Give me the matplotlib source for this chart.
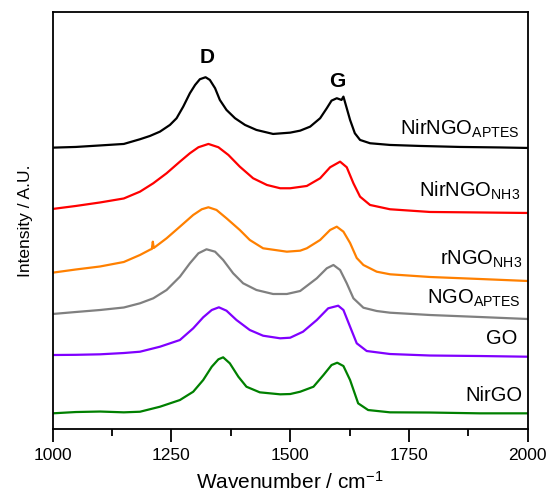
import numpy as np
import matplotlib
matplotlib.use("Agg")
import matplotlib.pyplot as plt

plt.rcParams["font.family"] = ["Liberation Sans", "DejaVu Sans"]
plt.rcParams["mathtext.default"] = "regular"

# Raman spectra (wavenumber in cm-1, stacked intensity in a.u.)
wn_nirngo_aptes = [1000, 1049, 1100, 1150, 1184, 1205, 1226, 1247, 1261, 1275, 1289, 1300,
                   1310, 1322, 1331, 1342, 1352, 1366, 1384, 1405, 1429, 1464, 1500, 1521,
                   1542, 1563, 1577, 1587, 1598, 1608, 1612, 1614, 1619, 1626, 1636, 1647,
                   1668, 1710, 1773, 1857, 1941, 2000]
i_nirngo_aptes = [281.3, 282, 283.5, 285, 289.7, 293, 297.3, 304, 310.7, 322.3, 335.7, 344,
                  349.7, 351.7, 349, 340.7, 329, 319, 310.7, 304, 299, 295, 296.3, 298.3,
                  302.3, 310.7, 320.7, 328.3, 330.7, 329, 332.3, 329, 320.7, 309, 295.7, 289,
                  285.7, 284, 283, 282, 281.5, 281]

wn_nirngo_nh3 = [1000, 1049, 1100, 1150, 1184, 1212, 1240, 1268, 1289, 1307, 1328, 1349,
                 1370, 1394, 1422, 1451, 1479, 1500, 1535, 1563, 1584, 1605, 1619, 1633,
                 1647, 1668, 1710, 1794, 1899, 2000]
i_nirngo_nh3 = [220, 223, 226.5, 230.5, 237.3, 245.7, 255.7, 267.3, 275.7, 281.7, 285, 281.7,
                274, 262.3, 250.7, 244, 240.7, 240.7, 243, 250.7, 261.7, 267.3, 261.7, 245.7,
                232.3, 224, 219.7, 217, 216.5, 216]

wn_rngo_nh3 = [1000, 1049, 1100, 1150, 1184, 1206, 1209, 1211, 1213, 1240, 1268, 1296,
               1314, 1328, 1345, 1366, 1394, 1415, 1443, 1493, 1521, 1535, 1563, 1584,
               1598, 1612, 1626, 1640, 1654, 1682, 1710, 1794, 1899, 2000]
i_rngo_nh3 = [156.3, 159.5, 162.5, 167, 174, 179.5, 180, 187.3, 181, 190.7, 202.3, 214,
              219.7, 221.7, 219, 210.7, 199, 189, 180.7, 177.3, 178.3, 180.7, 189, 199,
              202.3, 197.3, 186, 171, 164, 157.3, 154.7, 152, 150, 148]

wn_ngo_aptes = [1000, 1049, 1100, 1150, 1184, 1212, 1240, 1268, 1289, 1307, 1324, 1342,
                1359, 1380, 1401, 1429, 1464, 1493, 1521, 1556, 1577, 1591, 1605, 1619,
                1633, 1654, 1682, 1710, 1794, 1899, 2000]
i_ngo_aptes = [115, 117, 119, 121.5, 125.7, 130.7, 139, 152.3, 165.7, 175.7, 179.7, 177.3,
               169, 155.7, 145.7, 139, 135, 135, 138, 150.7, 160.7, 164, 159, 145.7,
               130.7, 121.3, 118, 116.3, 114, 112, 110]

wn_go = [1000, 1049, 1100, 1150, 1184, 1226, 1268, 1296, 1317, 1335, 1350, 1366,
         1387, 1415, 1443, 1479, 1500, 1527, 1556, 1580, 1601, 1612, 1626, 1640,
         1661, 1710, 1794, 1899, 2000]
i_go = [74, 74.2, 74.7, 76, 77.3, 82.3, 89, 100.7, 111.7, 119, 121.7, 118.3,
        109, 99, 93.3, 90.7, 91.3, 97.3, 109, 120.7, 123.3, 119, 102.3, 85.7,
        78, 75, 73.5, 73, 72.3]

wn_nirgo = [1000, 1049, 1100, 1150, 1184, 1226, 1268, 1296, 1317, 1335, 1349, 1359,
            1373, 1391, 1408, 1436, 1479, 1500, 1521, 1549, 1570, 1587, 1599, 1612,
            1626, 1643, 1664, 1710, 1794, 1899, 2000]
i_nirgo = [15.7, 17, 17.5, 16.7, 17.3, 22.3, 29, 37.3, 49, 62.3, 69.7, 71.7,
           65.7, 52.3, 42.3, 36.7, 34.7, 35, 37.3, 42.3, 54, 64, 66.3, 63,
           49, 25.7, 19, 16.7, 16.5, 15.7, 15.7]

labels = [r"NirNGO$_{APTES}$", r"NirNGO$_{NH3}$", r"rNGO$_{NH3}$",
          r"NGO$_{APTES}$", "GO", "NirGO"]
colors = ["black", "#ff0000", "#ff8000", "#808080", "#8000ff", "#008000"]
label_x = [1983, 1985, 1989, 1985, 1977, 1989]
label_y = [294, 232, 164, 125, 85, 28]

fig = plt.figure(figsize=(5.47, 4.96), dpi=100)
ax = fig.add_axes([0.096, 0.135, 0.869, 0.841])

spectra = [(wn_nirngo_aptes, i_nirngo_aptes), (wn_nirngo_nh3, i_nirngo_nh3),
           (wn_rngo_nh3, i_rngo_nh3), (wn_ngo_aptes, i_ngo_aptes),
           (wn_go, i_go), (wn_nirgo, i_nirgo)]
for (x, y), c in zip(spectra, colors):
    ax.plot(x, y, color=c, lw=1.6, solid_joinstyle="round")

for lab, lx, ly in zip(labels, label_x, label_y):
    ax.text(lx, ly, lab, ha="right", va="baseline", fontsize=14.5)

ax.text(1325, 366, "D", ha="center", va="baseline", fontsize=15, fontweight="bold")
ax.text(1598, 342, "G", ha="center", va="baseline", fontsize=15, fontweight="bold")

ax.set_xlim(1000, 2000)
ax.set_ylim(0, 417)
ax.set_xticks([1000, 1250, 1500, 1750, 2000])
ax.set_xticks([1125, 1375, 1625, 1875], minor=True)
ax.set_yticks([])
ax.tick_params(axis="x", which="major", direction="out", length=9, width=1.3,
               labelsize=12.5, pad=5)
ax.tick_params(axis="x", which="minor", direction="out", length=5, width=1.3)
for s in ax.spines.values():
    s.set_linewidth(1.3)

ax.set_xlabel("Wavenumber / cm$^{-1}$", fontsize=15, labelpad=5)
ax.set_ylabel("Intensity / A.U.", fontsize=12.5, labelpad=14)

fig.savefig("out.png", dpi=100)
